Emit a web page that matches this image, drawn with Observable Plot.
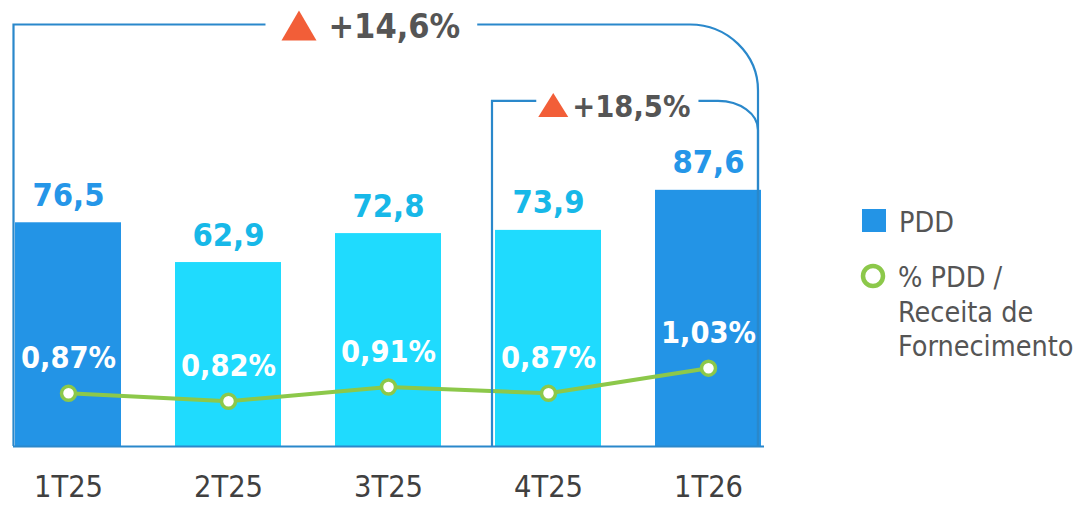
<!DOCTYPE html>
<html>
<head>
<meta charset="utf-8">
<script src="https://cdn.jsdelivr.net/npm/d3@7"></script>
<script src="https://cdn.jsdelivr.net/npm/@observablehq/plot@0.6"></script>
<style>
  html, body { margin: 0; padding: 0; background: #ffffff; }
  #chart { width: 1078px; height: 505px; }
</style>
</head>
<body>
<div id="chart"></div>
<script>
// ---- data ----
const quarters = ["1T25", "2T25", "3T25", "4T25", "1T26"];
const pddValues = [76.5, 62.9, 72.8, 73.9, 87.6];
const pddPct = [0.87, 0.82, 0.91, 0.87, 1.03];
const highlighted = [true, false, false, false, true];
const growthLabels = ["+14,6%", "+18,5%"];
const growthFrom = ["1T25", "4T25"];
const growthTo = ["1T26", "1T26"];
const legendLabels = ["PDD", "% PDD /", "Receita de", "Fornecimento"];

// ---- styles ----
const FONT = "'DejaVu Sans Condensed', 'DejaVu Sans', sans-serif";
const DARK = "#2394E6", CYAN = "#1FDBFE";
const DARK_LBL = "#2596E8", CYAN_LBL = "#17B8E8";
const FRAME = "#2A88CB", GREEN = "#8CC84A", TRI = "#F25E38", GRAY = "#555555";

const fmt1 = v => d3.format(".1f")(v).replace(".", ",");
const fmtPct = v => d3.format(".2f")(v).replace(".", ",") + "%";

const rows = quarters.map((q, i) => ({
  q, pdd: pddValues[i], pct: pddPct[i], hi: highlighted[i]
}));

// secondary axis: % values mapped into bar units
const pctToY = v => -28.59 + 53.76 * v;
const Y_MAX = 144.3;
const bracketLevels = [Y_MAX, 118.0];

const chart = Plot.plot({
  width: 1078, height: 505,
  marginLeft: 13, marginRight: 314, marginTop: 24, marginBottom: 59,
  style: { fontFamily: FONT, fontStretch: "condensed", color: "#404040", background: "white", overflow: "visible" },
  x: { domain: quarters, paddingInner: 0.335, paddingOuter: 0, label: null },
  y: { domain: [0, Y_MAX], axis: null },
  marks: [
    Plot.barY(rows, { x: "q", y: "pdd", fill: d => d.hi ? DARK : CYAN }),
    Plot.ruleY([0], { stroke: FRAME, strokeWidth: 2 }),
    Plot.text(rows, {
      x: "q", y: "pdd", text: d => fmt1(d.pdd), dy: -17, lineAnchor: "bottom",
      fill: d => d.hi ? DARK_LBL : CYAN_LBL, fontSize: 32.5, fontWeight: "bold"
    }),
    Plot.line(rows, { x: "q", y: d => pctToY(d.pct), stroke: GREEN, strokeWidth: 4 }),
    Plot.dot(rows, { x: "q", y: d => pctToY(d.pct), r: 7, fill: "white", stroke: GREEN, strokeWidth: 3.5 }),
    Plot.text(rows, {
      x: "q", y: d => pctToY(d.pct), text: d => fmtPct(d.pct), dy: -25, lineAnchor: "bottom",
      fill: "white", fontSize: 30.5, fontWeight: "bold"
    }),
    Plot.axisX({ tickSize: 0, tickPadding: 29, fontSize: 30.5, label: null })
  ]
});

document.getElementById("chart").appendChild(chart);

// ---- growth brackets drawn with the plot's own scales ----
const xs = chart.scale("x"), ys = chart.scale("y");
const svg = d3.select(chart);
const g = svg.append("g").attr("text-anchor", "start");
const base = ys.apply(0);
const fracs = [0.48, 0.46];
const padL = [16, 2], padR = [17, 8];
const radii = [68, 40];
const fontSizes = [34, 30.5];
const triW = [35, 30], triH = [30, 24], triGap = [12, 4];
const baseOff = [13.5, 16];

growthLabels.forEach((lab, i) => {
  const x0 = xs.apply(growthFrom[i]) - (i === 0 ? 1.5 : 3);
  const x1 = xs.apply(growthTo[i]) + xs.bandwidth - 3;
  const yl = ys.apply(bracketLevels[i]) + (i === 0 ? 0.5 : 0);
  // label
  const t = g.append("text")
    .attr("text-anchor", "start")
    .attr("font-family", FONT).attr("font-stretch", "condensed")
    .attr("font-weight", "bold").attr("font-size", fontSizes[i])
    .attr("fill", GRAY).text(lab);
  const tw = t.node().getComputedTextLength();
  const groupW = triW[i] + triGap[i] + tw;
  const cx = x0 + fracs[i] * (x1 - x0);
  const gx0 = cx - groupW / 2, gx1 = cx + groupW / 2;
  const bl = yl + baseOff[i];
  t.attr("x", gx0 + triW[i] + triGap[i]).attr("y", bl);
  const tb = bl + (i === 0 ? 2.5 : 0);
  g.append("path")
    .attr("d", `M${gx0},${tb}L${gx0 + triW[i] / 2},${tb - triH[i]}L${gx0 + triW[i]},${tb}Z`)
    .attr("fill", TRI);
  // frame lines
  const r = radii[i];
  const ry = i === 0 ? 66 : 29;
  const d = `M${x0},${base}V${yl}H${gx0 - padL[i]}` +
            `M${gx1 + padR[i]},${yl}H${x1 - r}` +
            `C${x1 - r * 0.45},${yl} ${x1},${yl + ry * 0.45} ${x1},${yl + ry}V${base}`;
  g.append("path").attr("d", d).attr("fill", "none").attr("stroke", FRAME).attr("stroke-width", 2.2);
});

// ---- legend ----
const lg = svg.append("g").attr("font-family", FONT).attr("font-stretch", "condensed")
  .attr("text-anchor", "start").attr("font-size", 28.5).attr("fill", GRAY);
lg.append("rect").attr("x", 862).attr("y", 209).attr("width", 24).attr("height", 23).attr("fill", DARK);
lg.append("text").attr("x", 899).attr("y", 232).text(legendLabels[0]);
lg.append("circle").attr("cx", 873).attr("cy", 276).attr("r", 10)
  .attr("fill", "white").attr("stroke", GREEN).attr("stroke-width", 4.5);
legendLabels.slice(1).forEach((s, k) => {
  lg.append("text").attr("x", 898).attr("y", 287 + k * 34.5).text(s);
});
</script>
</body>
</html>
